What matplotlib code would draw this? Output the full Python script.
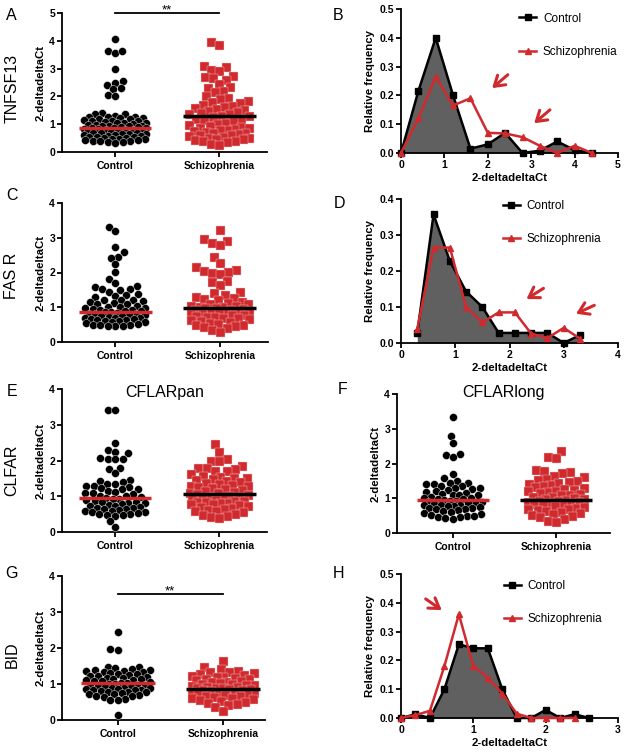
import matplotlib
matplotlib.use('Agg')
import matplotlib.pyplot as plt
import numpy as np

plt.rcParams['font.family'] = ['Liberation Sans', 'DejaVu Sans']

RED = '#D02A2E'
GRAY = '#606060'

groups = ['Control', 'Schizophrenia']

# ---------------- scatter data ----------------
tnf_ctrl = [4.05, 3.65, 3.55, 3.65, 3.0, 2.55, 2.5, 2.4, 2.3, 2.25, 2.05, 2.0,
            1.40, 1.38, 1.36, 1.28, 1.27, 1.25, 1.25, 1.24, 1.22, 1.2, 1.2,
            1.15, 1.12, 1.1, 1.1, 1.08, 1.05, 1.05, 1.03, 1.0,
            0.98, 0.97, 0.95, 0.95, 0.93, 0.92, 0.9, 0.9, 0.88,
            0.86, 0.85, 0.84, 0.82, 0.8, 0.8, 0.78, 0.77, 0.75,
            0.74, 0.72, 0.7, 0.7, 0.68, 0.66, 0.65, 0.63, 0.62,
            0.6, 0.58, 0.57, 0.55, 0.55, 0.53, 0.5, 0.5,
            0.48, 0.46, 0.45, 0.43, 0.42, 0.4, 0.4, 0.38, 0.36, 0.35, 0.33]
tnf_sz = [3.95, 3.85, 3.1, 3.05, 2.95, 2.9, 2.75, 2.7, 2.65, 2.6, 2.45, 2.35, 2.3, 2.2, 2.15,
          2.0, 1.95, 1.9, 1.85, 1.8, 1.75, 1.7, 1.65, 1.62, 1.6, 1.55, 1.5, 1.48, 1.45, 1.4,
          1.38, 1.35, 1.3, 1.28, 1.25, 1.2, 1.18, 1.15, 1.1, 1.05, 1.0, 0.98, 0.95, 0.9,
          0.88, 0.85, 0.82, 0.8, 0.78, 0.75, 0.72, 0.7, 0.68, 0.65, 0.62, 0.6, 0.58, 0.55,
          0.52, 0.5, 0.48, 0.45, 0.42, 0.4, 0.38, 0.35, 0.3, 0.25]
fas_ctrl = [3.3, 3.18, 2.72, 2.58, 2.45, 2.42, 2.25, 2.02, 1.8, 1.7, 1.6, 1.57, 1.53, 1.52,
            1.5, 1.45, 1.37, 1.35, 1.33, 1.3, 1.22, 1.2, 1.2, 1.18, 1.15, 1.12, 1.1, 1.08,
            1.05, 1.02, 1.0, 0.98, 0.97, 0.95, 0.93, 0.92, 0.9, 0.88, 0.87, 0.85, 0.84, 0.82,
            0.8, 0.8, 0.78, 0.77, 0.75, 0.74, 0.72, 0.7, 0.7, 0.68, 0.67, 0.65, 0.63, 0.62,
            0.6, 0.6, 0.58, 0.57, 0.55, 0.52, 0.5, 0.5, 0.48, 0.47, 0.45, 0.45]
fas_sz = [3.22, 2.95, 2.9, 2.85, 2.8, 2.45, 2.28, 2.15, 2.08, 2.05, 2.02, 2.0, 1.95, 1.75,
          1.72, 1.65, 1.45, 1.4, 1.35, 1.3, 1.28, 1.25, 1.2, 1.15, 1.12, 1.1, 1.08, 1.05,
          1.05, 1.02, 1.0, 0.98, 0.97, 0.95, 0.93, 0.92, 0.9, 0.88, 0.87, 0.85, 0.83, 0.82,
          0.8, 0.78, 0.77, 0.75, 0.73, 0.72, 0.7, 0.68, 0.65, 0.63, 0.6, 0.58, 0.55, 0.53,
          0.5, 0.48, 0.45, 0.42, 0.4, 0.35, 0.3]
cpan_ctrl = [3.42, 3.41, 2.5, 2.3, 2.25, 2.2, 2.08, 2.05, 2.05, 2.03, 1.8, 1.75, 1.65, 1.45,
             1.42, 1.4, 1.35, 1.33, 1.3, 1.3, 1.25, 1.22, 1.2, 1.2, 1.15, 1.12, 1.1, 1.08,
             1.05, 1.02, 1.0, 0.98, 0.95, 0.93, 0.92, 0.9, 0.88, 0.85, 0.83, 0.82, 0.8, 0.78,
             0.75, 0.73, 0.72, 0.7, 0.68, 0.67, 0.65, 0.63, 0.62, 0.6, 0.58, 0.57, 0.55, 0.53,
             0.5, 0.5, 0.48, 0.47, 0.45, 0.3, 0.15]
cpan_sz = [2.45, 2.25, 2.05, 2.0, 1.98, 1.85, 1.8, 1.78, 1.75, 1.72, 1.7, 1.62, 1.58, 1.55,
           1.52, 1.5, 1.48, 1.45, 1.42, 1.4, 1.38, 1.35, 1.32, 1.3, 1.28, 1.25, 1.22, 1.2,
           1.18, 1.15, 1.12, 1.1, 1.08, 1.05, 1.03, 1.0, 0.98, 0.97, 0.95, 0.93, 0.92, 0.9,
           0.88, 0.87, 0.85, 0.83, 0.82, 0.8, 0.78, 0.77, 0.75, 0.73, 0.7, 0.68, 0.65, 0.62,
           0.6, 0.58, 0.55, 0.5, 0.48, 0.45, 0.42, 0.4]
clong_ctrl = [3.33, 2.78, 2.58, 2.28, 2.25, 2.2, 1.7, 1.58, 1.5, 1.45, 1.45, 1.42, 1.4, 1.35,
              1.35, 1.3, 1.3, 1.28, 1.25, 1.2, 1.18, 1.15, 1.12, 1.1, 1.1, 1.08, 1.05, 1.02,
              1.0, 0.98, 0.97, 0.95, 0.93, 0.92, 0.9, 0.88, 0.87, 0.85, 0.83, 0.82, 0.8, 0.8,
              0.78, 0.77, 0.75, 0.73, 0.72, 0.7, 0.68, 0.65, 0.62, 0.6, 0.58, 0.55, 0.52, 0.5,
              0.5, 0.47, 0.45, 0.42, 0.4]
clong_sz = [2.35, 2.2, 2.15, 1.82, 1.78, 1.75, 1.72, 1.65, 1.6, 1.55, 1.52, 1.5, 1.48, 1.45,
            1.4, 1.38, 1.35, 1.32, 1.3, 1.28, 1.25, 1.22, 1.2, 1.18, 1.15, 1.12, 1.1, 1.08,
            1.05, 1.03, 1.0, 0.98, 0.97, 0.95, 0.93, 0.92, 0.9, 0.88, 0.87, 0.85, 0.83, 0.82,
            0.8, 0.78, 0.75, 0.73, 0.7, 0.68, 0.65, 0.62, 0.6, 0.57, 0.55, 0.52, 0.5, 0.45,
            0.4, 0.35, 0.33]
bid_ctrl = [2.45, 1.98, 1.95, 1.48, 1.47, 1.45, 1.42, 1.4, 1.38, 1.37, 1.35, 1.33, 1.32, 1.3,
            1.28, 1.27, 1.25, 1.23, 1.22, 1.2, 1.18, 1.17, 1.15, 1.13, 1.12, 1.1, 1.08, 1.07,
            1.05, 1.04, 1.02, 1.0, 0.99, 0.98, 0.97, 0.95, 0.94, 0.93, 0.92, 0.9, 0.89, 0.88,
            0.87, 0.85, 0.84, 0.83, 0.82, 0.8, 0.79, 0.78, 0.77, 0.75, 0.73, 0.72, 0.7, 0.68,
            0.67, 0.65, 0.57, 0.55, 0.55, 0.15]
bid_sz = [1.65, 1.48, 1.42, 1.35, 1.33, 1.32, 1.3, 1.28, 1.25, 1.22, 1.2, 1.2, 1.18, 1.15,
          1.13, 1.1, 1.08, 1.06, 1.05, 1.02, 1.0, 0.99, 0.98, 0.96, 0.95, 0.93, 0.92, 0.9,
          0.89, 0.88, 0.86, 0.85, 0.84, 0.82, 0.8, 0.79, 0.78, 0.76, 0.75, 0.73, 0.72, 0.7,
          0.68, 0.67, 0.65, 0.62, 0.6, 0.58, 0.55, 0.52, 0.5, 0.48, 0.45, 0.42, 0.35, 0.25]

tnf_lines = [0.85, 1.28]
fas_lines = [0.85, 0.98]
cpan_lines = [0.95, 1.07]
clong_lines = [0.95, 0.95]
bid_lines = [1.02, 0.87]

# ---------------- histogram data ----------------
b_x_ctrl = [0, 0.4, 0.8, 1.2, 1.6, 2.0, 2.4, 2.8, 3.2, 3.6, 4.0, 4.4]
b_y_ctrl = [0, 0.215, 0.40, 0.20, 0.015, 0.03, 0.07, 0.0, 0.008, 0.04, 0.01, 0.0]
b_x_sz = [0, 0.4, 0.8, 1.2, 1.6, 2.0, 2.4, 2.8, 3.2, 3.6, 4.0, 4.4]
b_y_sz = [0, 0.12, 0.265, 0.165, 0.19, 0.07, 0.068, 0.055, 0.025, 0.0, 0.025, 0.0]

d_x_ctrl = [0.3, 0.6, 0.9, 1.2, 1.5, 1.8, 2.1, 2.4, 2.7, 3.0, 3.3]
d_y_ctrl = [0.028, 0.357, 0.228, 0.143, 0.1, 0.028, 0.028, 0.028, 0.028, 0.0, 0.022]
d_x_sz = [0.3, 0.6, 0.9, 1.2, 1.5, 1.8, 2.1, 2.4, 2.7, 3.0, 3.3]
d_y_sz = [0.04, 0.265, 0.265, 0.1, 0.057, 0.085, 0.085, 0.026, 0.014, 0.042, 0.012]

h_x_ctrl = [0, 0.2, 0.4, 0.6, 0.8, 1.0, 1.2, 1.4, 1.6, 1.8, 2.0, 2.2, 2.4, 2.6]
h_y_ctrl = [0, 0.013, 0.0, 0.1, 0.256, 0.242, 0.242, 0.1, 0.0, 0.0, 0.028, 0.0, 0.013, 0.0]
h_x_sz = [0, 0.2, 0.4, 0.6, 0.8, 1.0, 1.2, 1.4, 1.6, 1.8, 2.0, 2.2, 2.4]
h_y_sz = [0, 0.01, 0.025, 0.18, 0.36, 0.18, 0.14, 0.085, 0.015, 0.0, 0.0, 0.0, 0.0]

W, H = 624, 753
fig = plt.figure(figsize=(W / 100, H / 100), dpi=100)


def add_ax(l, t, r, b):
    return fig.add_axes([l / W, 1 - b / H, (r - l) / W, (b - t) / H])


def style(ax):
    for s in ('top', 'right'):
        ax.spines[s].set_visible(False)
    for s in ('left', 'bottom'):
        ax.spines[s].set_linewidth(1.3)
    ax.tick_params(direction='out', length=3.5, width=1.3, labelsize=7.5, pad=1.5)
    for lab in ax.get_xticklabels() + ax.get_yticklabels():
        lab.set_fontweight('bold')


def swarm(vals, wpx, hpx, xr, yr, diam, maxoff, factor=0.9):
    """Beeswarm layout in pixels with a capped half-width (GraphPad-like)."""
    y = np.asarray(vals, float) * hpx / yr
    order = np.argsort(y)
    d = diam * factor
    grid = np.arange(-maxoff, maxoff + 0.01, 0.5)
    grid = grid[np.argsort(np.abs(grid), kind='stable')]
    px, py = np.zeros(0), np.zeros(0)
    offs = np.zeros(len(y))
    for i in order:
        if len(px):
            dist = np.sqrt((grid[:, None] - px[None, :]) ** 2 + (y[i] - py[None, :]) ** 2)
            mind = dist.min(axis=1)
            ok = np.where(mind >= d)[0]
            c = grid[ok[0]] if len(ok) else grid[np.argmax(mind)]
        else:
            c = 0.0
        offs[i] = c
        px = np.append(px, c)
        py = np.append(py, y[i])
    return offs * xr / wpx


def scatter_panel(box, ctrl, sz, lines, ymax, xlim, title=None, title_y=None, sig=None,
                  dc=8.0, ds=9.0, maxoff=30):
    l, t, r, b = box
    ax = add_ax(l, t, r, b)
    wpx, hpx = r - l, b - t
    xr = xlim[1] - xlim[0]
    oc = swarm(ctrl, wpx, hpx, xr, ymax, dc, maxoff)
    os_ = swarm(sz, wpx, hpx, xr, ymax, ds, maxoff - 1)
    ax.scatter(1 + oc, ctrl, s=(dc * 0.72) ** 2, marker='o', c='black',
               edgecolors='white', linewidths=0.3, zorder=3, clip_on=False)
    ax.scatter(2 + os_, sz, s=(ds * 0.72) ** 2, marker='s', c=RED,
               edgecolors='#f0c8c8', linewidths=0.3, zorder=3, clip_on=False)
    ax.plot([1 - 0.35, 1 + 0.35], [lines[0]] * 2, color=RED, lw=2.5, zorder=5,
            solid_capstyle='butt')
    ax.plot([2 - 0.35, 2 + 0.35], [lines[1]] * 2, color='black', lw=2.5, zorder=5,
            solid_capstyle='butt')
    ax.set_xlim(*xlim)
    ax.set_ylim(0, ymax)
    ax.set_yticks(range(0, ymax + 1))
    ax.set_xticks([1, 2])
    ax.set_xticklabels(groups, fontsize=8.3)
    ax.set_ylabel('2-deltadeltaCt', fontsize=8.2, fontweight='bold', labelpad=3)
    style(ax)
    ax.tick_params(axis='x', pad=3)
    if title:
        ax.text(0.5, 1 - (title_y - t) / hpx, title, transform=ax.transAxes,
                ha='center', va='center', fontsize=11.5)
    if sig is not None:
        ax.plot([1, 2], [sig, sig], color='black', lw=1.3, clip_on=False)
        ax.text(1.5, sig, '**', ha='center', va='baseline', fontsize=9.5)
    return ax


def hist_panel(box, xc, yc, xs, ys, xmax, ymax, arrows, leg_anchor):
    l, t, r, b = box
    ax = add_ax(l, t, r, b)
    ax.fill_between(xc, yc, 0, color=GRAY, lw=0, zorder=1)
    ax.plot(xc, yc, '-s', color='black', lw=1.8, ms=5, zorder=3, clip_on=False,
            label='Control')
    ax.plot(xs, ys, '-^', color=RED, lw=1.8, ms=5, zorder=4, clip_on=False,
            label='Schizophrenia')
    ax.set_xlim(0, xmax)
    ax.set_ylim(0, ymax)
    ax.set_xticks(range(0, xmax + 1))
    yt = np.arange(0, ymax + 1e-9, 0.1)
    ax.set_yticks(yt)
    ax.set_yticklabels(['%.1f' % v for v in yt])
    ax.set_xlabel('2-deltadeltaCt', fontsize=8.2, fontweight='bold', labelpad=2)
    ax.set_ylabel('Relative frequency', fontsize=8.2, fontweight='bold', labelpad=3)
    style(ax)
    for tail, head in arrows:
        ax.annotate('', xy=head, xytext=tail,
                    arrowprops=dict(arrowstyle='->,head_length=0.7,head_width=0.45',
                                    color=RED, lw=2.2))
    ax.legend(loc='upper left', bbox_to_anchor=leg_anchor, frameon=False,
              fontsize=8.5, handlelength=1.4, handletextpad=0.6, labelspacing=1.8,
              borderpad=0, borderaxespad=0)
    return ax


XL = (0.49, 2.46)
scatter_panel((62, 13, 267, 152), tnf_ctrl, tnf_sz, tnf_lines, 5, XL, sig=5.0, maxoff=31)
scatter_panel((62, 203, 268, 342), fas_ctrl, fas_sz, fas_lines, 4, XL)
scatter_panel((62, 389, 267, 532), cpan_ctrl, cpan_sz, cpan_lines, 4, XL,
              title='CFLARpan', title_y=392)
scatter_panel((397, 394, 610, 533), clong_ctrl, clong_sz, clong_lines, 4, (0.46, 2.52),
              title='CFLARlong', title_y=393, maxoff=29)
scatter_panel((62, 576, 265, 720), bid_ctrl, bid_sz, bid_lines, 4, (0.47, 2.4), sig=3.5,
              maxoff=32)

hist_panel((401, 9, 618, 153), b_x_ctrl, b_y_ctrl, b_x_sz, b_y_sz, 5, 0.5,
           [((2.51, 0.278), (2.05, 0.219)), ((3.48, 0.156), (3.02, 0.097))],
           (0.545, 0.975))
hist_panel((401, 199, 618, 343), d_x_ctrl, d_y_ctrl, d_x_sz, d_y_sz, 4, 0.4,
           [((2.67, 0.156), (2.27, 0.118)), ((3.61, 0.108), (3.18, 0.078))],
           (0.47, 0.995))
hist_panel((401, 574, 618, 718), h_x_ctrl, h_y_ctrl, h_x_sz, h_y_sz, 3, 0.5,
           [((0.31, 0.419), (0.595, 0.369))],
           (0.475, 0.96))


def ftext(x, y, s, **kw):
    fig.text(x / W, 1 - y / H, s, ha='center', va='center', **kw)


for (x, y, s) in [(11, 15, 'A'), (338, 15, 'B'), (12, 195, 'C'), (340, 204, 'D'),
                  (12, 392, 'E'), (343, 389, 'F'), (12, 573, 'G'), (338, 573, 'H')]:
    ftext(x, y, s, fontsize=11.5)

for (y, s) in [(88, 'TNFSF13'), (276, 'FAS R'), (470, 'CLFAR'), (655, 'BID')]:
    ftext(12, y, s, fontsize=11.5, rotation=90)

fig.savefig('out.png', dpi=100)
